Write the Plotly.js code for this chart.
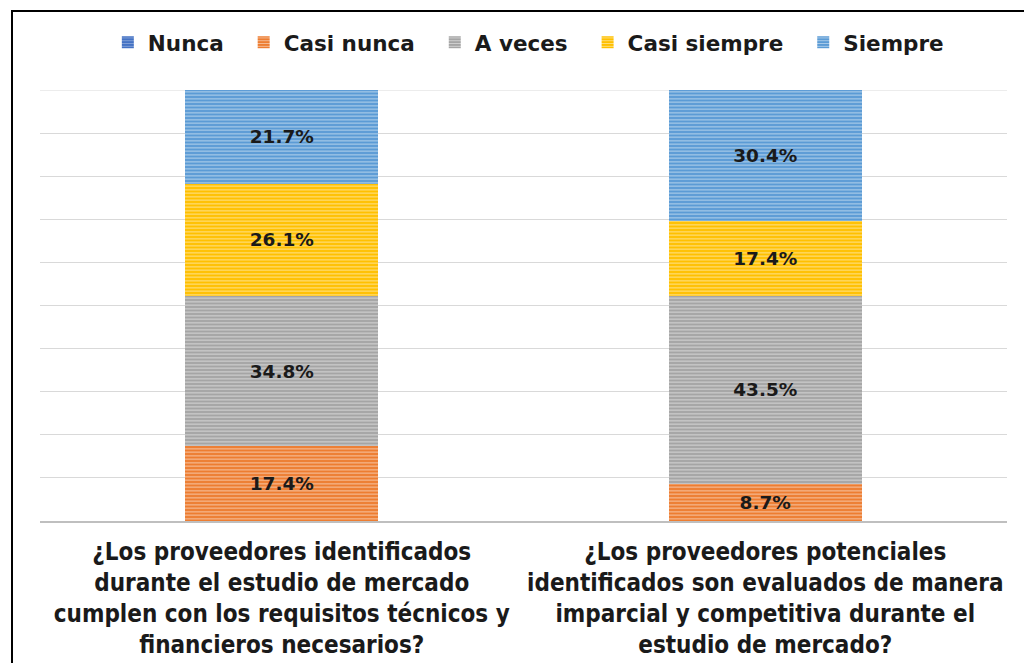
<!DOCTYPE html>
<html>
<head>
<meta charset="utf-8">
<script src="https://cdn.plot.ly/plotly-3.0.1.min.js"></script>
<style>
html,body{margin:0;padding:0;overflow:hidden;background:#fff;}
#chart{width:1024px;height:663px;}
#frame{position:absolute;left:11px;top:10px;width:2000px;height:2000px;border:2px solid #000;pointer-events:none;}
</style>
</head>
<body>
<div id="chart"></div>
<div id="frame"></div>
<script>
const categories = [
  "¿Los proveedores identificados<br>durante el estudio de mercado<br>cumplen con los requisitos técnicos y<br>financieros necesarios?",
  "¿Los proveedores potenciales<br>identificados son evaluados de manera<br>imparcial y competitiva durante el<br>estudio de mercado?"
];
const seriesNames = ["Nunca", "Casi nunca", "A veces", "Casi siempre", "Siempre"];
const nunca = [0, 0];
const casiNunca = [17.4, 8.7];
const aVeces = [34.8, 43.5];
const casiSiempre = [26.1, 17.4];
const siempre = [21.7, 30.4];
const colors = ["#4472c4", "#ed7d31", "#a5a5a5", "#ffc000", "#5b9bd5"];
const stripeColors = ["#8faadc", "#f8cbad", "#dbdbdb", "#ffe699", "#bdd7ee"];

const values = [nunca, casiNunca, aVeces, casiSiempre, siempre];
const traces = values.map((v, i) => ({
  type: "bar",
  name: seriesNames[i] + (i < seriesNames.length - 1 ? "\u00a0\u00a0" : ""),
  x: categories,
  y: v,
  text: v.map(d => d > 0 ? d.toFixed(1) + "%" : ""),
  textposition: i === 0 ? "none" : "inside",
  insidetextanchor: "middle",
  textangle: 0,
  textfont: {family: "DejaVu Sans", size: 18.5, color: "#1a1a1a", weight: "bold"},
  hoverinfo: "skip",
  marker: {
    color: colors[i],
    line: {width: 0},
    pattern: {shape: "-", bgcolor: colors[i], fgcolor: stripeColors[i], fgopacity: 0.8, size: 3.5, solidity: 0.35}
  }
}));

const layout = {
  width: 1024,
  height: 663,
  barmode: "stack",
  bargap: 0.6,
  margin: {l: 40, r: 17, t: 90, b: 142},
  paper_bgcolor: "#ffffff",
  plot_bgcolor: "#ffffff",
  showlegend: true,
  legend: {
    orientation: "h",
    x: 0.505, xanchor: "center",
    y: 1.111, yanchor: "middle",
    font: {family: "DejaVu Sans", size: 21.5, color: "#1a1a1a", weight: "bold"},
    itemwidth: 30,
    traceorder: "normal"
  },
  xaxis: {
    type: "category",
    showline: true,
    linecolor: "#bfbfbf",
    linewidth: 2,
    ticks: "",
    ticklabelstandoff: 8,
    tickfont: {family: "DejaVu Sans Condensed", size: 24, color: "#1a1a1a", weight: "bold"},
    showgrid: false
  },
  yaxis: {
    range: [0, 100],
    dtick: 10,
    showticklabels: false,
    showgrid: true,
    gridcolor: "#d9d9d9",
    gridwidth: 1,
    zeroline: false,
    ticks: ""
  },
  shapes: [{
    type: "line", xref: "paper", yref: "y", x0: 0, x1: 1, y0: 100, y1: 100,
    line: {color: "#d9d9d9", width: 1}, layer: "below"
  }]
};

Plotly.newPlot("chart", traces, layout, {displayModeBar: false, staticPlot: true});
</script>
</body>
</html>
